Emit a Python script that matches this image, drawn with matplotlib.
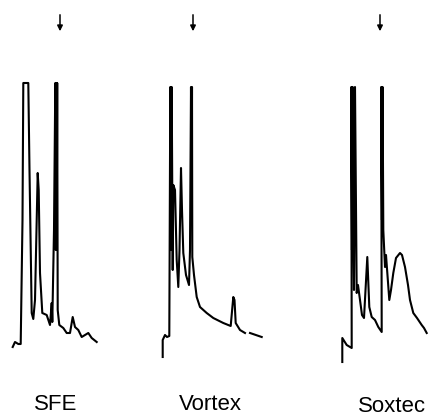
import numpy as np
import matplotlib
matplotlib.use("Agg")
import matplotlib.pyplot as plt

# chromatogram traces: retention (arbitrary units) and detector signal
sfe_time = [12.7, 15, 18.3, 20.7, 22.5, 23.3, 28.3, 29.5, 31.7, 33.3, 35, 37.7, 38.7, 40,
            42.3, 46.7, 50, 51.7, 52.3, 54, 55.3, 55.8, 56.3, 56.8, 57.2, 57.7, 59.3,
            63.3, 66.7, 70, 72.7, 75, 78.3, 81.7, 85, 88.3, 91.7, 96.7]
sfe_signal = [23, 28, 26, 26, 150, 287, 287, 200, 57, 51, 70, 197, 180, 97,
              57, 55, 45, 67, 48, 140, 287, 120, 287, 140, 287, 60, 45,
              42, 37, 37, 53, 43, 40, 33, 35, 37, 32, 28]

vortex_time = [19.7, 19.7, 22, 24, 26.3, 27.3, 28, 28.7, 29.7, 30.3, 32, 33.7, 35.3, 36.5,
               38, 39, 40.3, 43, 46, 47, 48, 48.7, 49, 49.3, 51, 53.7, 57, 63.7, 70.3,
               80.3, 87.7, 90.3, 91.5, 92.7, 97, 102, 104, 107, 118.7]
vortex_signal = [13, 30, 35, 33, 34, 283, 120, 283, 100, 185, 180, 110, 83, 120,
                 202, 160, 117, 95, 85, 120, 283, 170, 283, 113, 95, 73, 63, 57, 52,
                 47, 44, 73, 70, 47, 40, 37, np.nan, 37, 33]

soxtec_time = [55.3, 55.3, 59.7, 64.7, 64.3, 65, 65.7, 66.3, 67, 68, 69.7, 71, 73, 75, 77,
               80.3, 82.3, 84.7, 88, 91.3, 94.7, 94.2, 95, 95.6, 96.3, 98, 99, 102.3, 104,
               106.3, 109, 113, 115, 118, 121, 123, 126.3, 130, 134.7, 137, 139.7]
soxtec_signal = [8, 32, 25, 22, 283, 120, 283, 140, 80, 283, 77, 85, 70, 55, 52,
                 113, 63, 53, 50, 43, 38, 283, 150, 283, 140, 103, 115, 70, 80,
                 97, 112, 117, 115, 103, 85, 70, 57, 52, 45, 42, 37]

labels = ["SFE", "Vortex", "Soxtec"]
arrow_times = [60, 50, 93]
label_times = [56, 67, 105]

traces = [(sfe_time, sfe_signal), (vortex_time, vortex_signal), (soxtec_time, soxtec_signal)]
panel_left = [0, 143, 287]   # pixel offsets of each panel
panel_width = 143

W, H = 430, 417
fig = plt.figure(figsize=(W / 100, H / 100), dpi=100)
plt.rcParams['font.family'] = ['Liberation Sans', 'DejaVu Sans']

for i, (t, s) in enumerate(traces):
    ax = fig.add_axes([panel_left[i] / W, (H - 370) / H, panel_width / W, 370 / H])
    ax.plot(t, s, color='black', lw=1.5, solid_joinstyle='round')
    ax.set_xlim(0, panel_width)
    ax.set_ylim(0, 370)
    ax.axis('off')
    ax.annotate('', xy=(arrow_times[i], 336), xytext=(arrow_times[i], 358),
                arrowprops=dict(arrowstyle='-|>', color='black', lw=1.1, mutation_scale=8),
                annotation_clip=False)
    ax.text(label_times[i], -35 if i < 2 else -37, labels[i], ha='center', va='center',
            fontsize=16, color='black', clip_on=False)

fig.savefig("out.png", dpi=100)
